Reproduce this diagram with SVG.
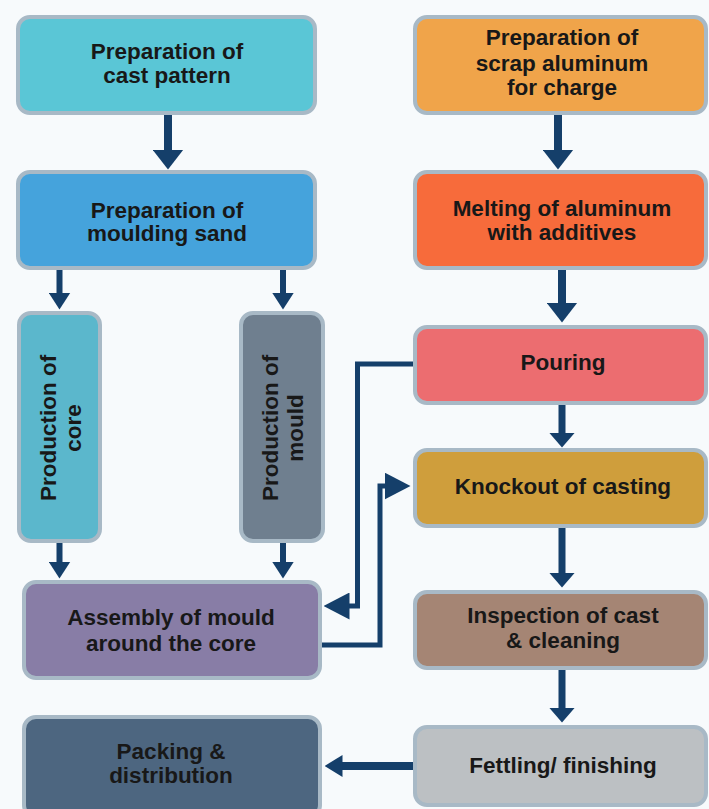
<svg xmlns="http://www.w3.org/2000/svg" width="709" height="809" viewBox="0 0 709 809">
<style>
.box{stroke:#A8B9C6;stroke-width:4}
.t{font-family:"Liberation Sans",Arial,sans-serif;font-weight:bold;font-size:22.5px;fill:#181818;text-anchor:middle}
.c{fill:none;stroke:#153F6A;stroke-linejoin:miter}
.mk{fill:#153F6A}
</style>
<defs>
<marker id="big" markerUnits="userSpaceOnUse" markerWidth="20" markerHeight="31" viewBox="0 0 20 31" refX="0.5" refY="15.5" orient="auto"><path class="mk" d="M0,0 L20,15.5 L0,31 Z"/></marker>
<marker id="med" markerUnits="userSpaceOnUse" markerWidth="15" markerHeight="26" viewBox="0 0 15 26" refX="0.5" refY="13" orient="auto"><path class="mk" d="M0,0 L15,13 L0,26 Z"/></marker>
<marker id="sml" markerUnits="userSpaceOnUse" markerWidth="17" markerHeight="22" viewBox="0 0 17 22" refX="0.5" refY="11" orient="auto"><path class="mk" d="M0,0 L17,11 L0,22 Z"/></marker>
<marker id="con" markerUnits="userSpaceOnUse" markerWidth="26" markerHeight="27" viewBox="0 0 26 27" refX="0.5" refY="13.5" orient="auto"><path class="mk" d="M0,0 L26,13.5 L0,27 Z"/></marker>
<marker id="lft" markerUnits="userSpaceOnUse" markerWidth="18" markerHeight="22" viewBox="0 0 18 22" refX="0.5" refY="11" orient="auto"><path class="mk" d="M0,0 L18,11 L0,22 Z"/></marker>
</defs>
<rect x="0" y="0" width="709" height="809" fill="#F7FAFC"/>

<g id="cast-pattern"><rect class="box" x="18" y="17" width="297" height="96" rx="12" fill="#5AC6D6"/><text class="t" x="167" y="59">Preparation of</text><text class="t" x="167" y="83">cast pattern</text></g>
<g id="moulding-sand"><rect class="box" x="18" y="172" width="297" height="96" rx="12" fill="#45A3DC"/><text class="t" x="167" y="218">Preparation of</text><text class="t" x="167" y="241">moulding sand</text></g>
<g id="core"><rect class="box" x="19" y="313" width="81" height="228" rx="12" fill="#5BB7CC"/><g transform="translate(59.5,428) rotate(-90)"><text class="t" x="0" y="-4">Production of</text><text class="t" x="0" y="21">core</text></g></g>
<g id="mould"><rect class="box" x="241" y="313" width="82" height="228" rx="12" fill="#6F7F8F"/><g transform="translate(282,428) rotate(-90)"><text class="t" x="0" y="-4">Production of</text><text class="t" x="0" y="21">mould</text></g></g>
<g id="assembly"><rect class="box" x="24" y="582" width="296" height="96" rx="12" fill="#887DA6"/><text class="t" x="171" y="625">Assembly of mould</text><text class="t" x="171" y="651">around the core</text></g>
<g id="packing"><rect class="box" x="24" y="717" width="296" height="100" rx="12" fill="#4D6680"/><text class="t" x="171" y="759">Packing &amp;</text><text class="t" x="171" y="783">distribution</text></g>

<g id="scrap"><rect class="box" x="415" y="17" width="291" height="96" rx="12" fill="#F0A44A"/><text class="t" x="562" y="45">Preparation of</text><text class="t" x="562" y="71">scrap aluminum</text><text class="t" x="562" y="95">for charge</text></g>
<g id="melting"><rect class="box" x="415" y="172" width="291" height="96" rx="12" fill="#F76B3B"/><text class="t" x="562" y="216">Melting of aluminum</text><text class="t" x="562" y="240">with additives</text></g>
<g id="pouring"><rect class="box" x="415" y="327" width="291" height="76" rx="12" fill="#EC6D70"/><text class="t" x="563" y="370">Pouring</text></g>
<g id="knockout"><rect class="box" x="415" y="450" width="291" height="76" rx="12" fill="#CF9E3C"/><text class="t" x="563" y="494">Knockout of casting</text></g>
<g id="inspection"><rect class="box" x="415" y="592" width="291" height="76" rx="12" fill="#A58574"/><text class="t" x="563" y="623">Inspection of cast</text><text class="t" x="563" y="648">&amp; cleaning</text></g>
<g id="fettling"><rect class="box" x="415" y="727" width="291" height="78" rx="12" fill="#BCC0C3"/><text class="t" x="563" y="773">Fettling/ finishing</text></g>

<g id="connectors">
<line class="c" x1="168" y1="115" x2="168" y2="150" stroke-width="8" marker-end="url(#big)"/>
<line class="c" x1="59.5" y1="270" x2="59.5" y2="293" stroke-width="6" marker-end="url(#sml)"/>
<line class="c" x1="283" y1="270" x2="283" y2="293" stroke-width="6" marker-end="url(#sml)"/>
<line class="c" x1="59.5" y1="543" x2="59.5" y2="562" stroke-width="6" marker-end="url(#sml)"/>
<line class="c" x1="283" y1="543" x2="283" y2="562" stroke-width="6" marker-end="url(#sml)"/>
<line class="c" x1="558" y1="115" x2="558" y2="150" stroke-width="8" marker-end="url(#big)"/>
<line class="c" x1="562" y1="270" x2="562" y2="303" stroke-width="8" marker-end="url(#big)"/>
<line class="c" x1="562" y1="405" x2="562" y2="433" stroke-width="7" marker-end="url(#med)"/>
<line class="c" x1="562" y1="528" x2="562" y2="573" stroke-width="7" marker-end="url(#med)"/>
<line class="c" x1="562" y1="670" x2="562" y2="708" stroke-width="7" marker-end="url(#med)"/>
<path class="c" d="M413,364 H357.5 V606 H349" stroke-width="5" marker-end="url(#con)"/>
<path class="c" d="M322,645 H380 V486 H385" stroke-width="5" marker-end="url(#con)"/>
<line class="c" x1="413" y1="766" x2="342" y2="766" stroke-width="8" marker-end="url(#lft)"/>
</g>
</svg>
